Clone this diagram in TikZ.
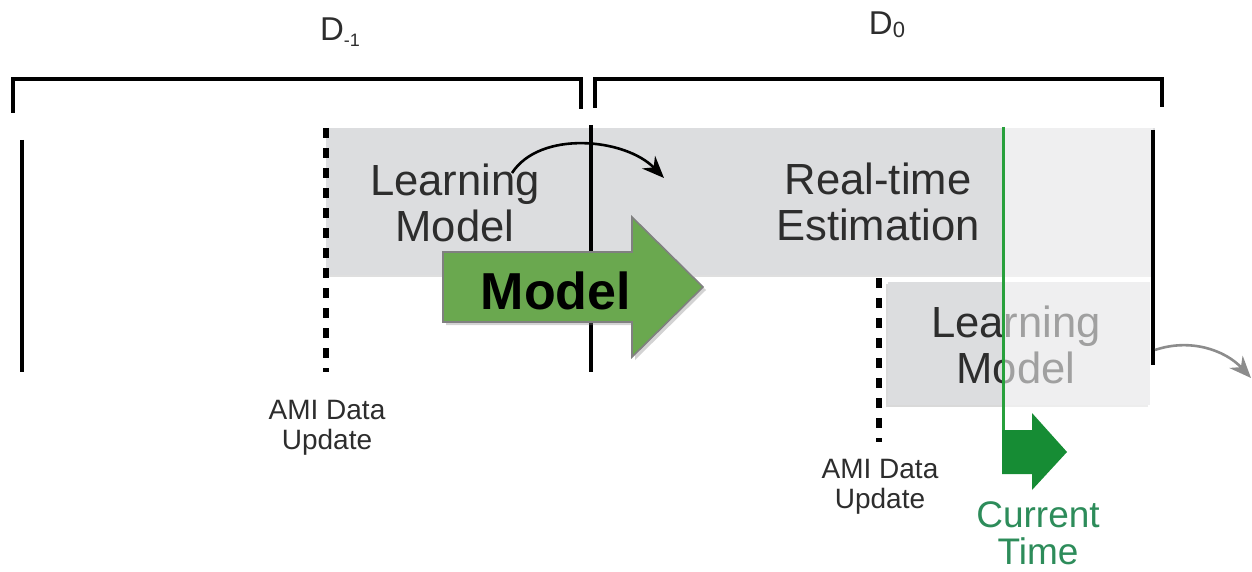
\documentclass[tikz,border=0pt]{standalone}
\usepackage{fontspec}
\setmainfont{Liberation Sans}
\usetikzlibrary{arrows.meta,shadows}
\definecolor{boxgray}{RGB}{220,221,223}
\definecolor{modelgreen}{RGB}{106,168,79}
\definecolor{ctgreen}{RGB}{40,160,60}
\definecolor{ctdark}{RGB}{22,140,52}
\definecolor{cttext}{RGB}{45,140,90}
\definecolor{txtgray}{RGB}{45,45,45}
\begin{document}
\begin{tikzpicture}[x=0.5pt,y=-0.5pt,
  bracketline/.style={line width=2pt},
  solidline/.style={line width=1.6pt},
  dotline/.style={line width=2.6pt, dash pattern=on 5pt off 5pt},
  graybox/.style={fill=boxgray, draw=none},
  bigtxt/.style={font=\fontsize{21.8pt}{23pt}\selectfont, text=txtgray, align=center},
  amitxt/.style={font=\fontsize{14pt}{15pt}\selectfont, text=txtgray, align=center},
  dlabel/.style={font=\fontsize{16.5pt}{18pt}\selectfont, text=txtgray},
  curvearrow/.style={line width=1.3pt, -{Stealth[length=11pt,width=9pt]}},
]
\useasboundingbox (0,0) rectangle (1252,572);

% gray boxes
\path[graybox, drop shadow={shadow xshift=0pt, shadow yshift=-1.2pt, opacity=0.25}] (326,128) rectangle (1155,275);
\path[graybox, drop shadow={shadow xshift=-0.8pt, shadow yshift=-1.2pt, opacity=0.3}] (888,282) rectangle (1150,405);

% box texts
\node[bigtxt] (lm1) at (455,203) {Learning\\Model};
\node[bigtxt] (rte) at (878,202) {Real-time\\Estimation};
\node[bigtxt] (lm2) at (1016,345) {Learning\\Model};

% fading overlay right of current time
\fill[white, opacity=0.55] (1003,126) rectangle (1153,412);

% brackets
\draw[bracketline] (13,113) -- (13,79) -- (581,79) -- (581,109);
\draw[bracketline] (595,108) -- (595,79) -- (1162,79) -- (1162,107);
\node[dlabel] (dm1) at (340,32) {D\raisebox{-0.35ex}{\fontsize{9pt}{10pt}\selectfont -1}};
\node[dlabel] (d0) at (887,25) {D\raisebox{-0.2ex}{\fontsize{11pt}{12pt}\selectfont 0}};

% vertical lines
\draw[solidline] (22,140) -- (22,372);
\draw[solidline] (591,125) -- (591,372);
\draw[solidline] (1153,130) -- (1153,365);
\draw[dotline] (326,128) -- (326,372);
\draw[dotline] (879,278) -- (879,442);

% AMI labels
\node[amitxt] (ami1) at (327,428) {AMI Data\\Update};
\node[amitxt] (ami2) at (880,487) {AMI Data\\Update};

% curved arrows
\coordinate (ca) at (512,173);
\coordinate (cb) at (664,178);
\draw[curvearrow, black] (ca) .. controls (540,130) and (625,138) .. (cb);
\coordinate (ga) at (1155,350);
\coordinate (gb) at (1251,378);
\draw[curvearrow, black!45] (ga) .. controls (1190,338) and (1225,350) .. (gb);

% current time
\draw[ctgreen, line width=1.5pt] (1003,127) -- (1003,452);
\fill[ctdark] (1002,430) -- (1032,430) -- (1032,413) -- (1067,452) -- (1032,490) -- (1032,474) -- (1002,474) -- cycle;
\node[font=\fontsize{18.5pt}{18.5pt}\selectfont, text=cttext, align=center] (ct) at (1038,533) {Current\\Time};

% Model arrow
\path[fill=modelgreen, draw=black!50, line width=0.8pt, drop shadow={shadow xshift=1.5pt, shadow yshift=-1.5pt, opacity=0.35}]
  (443,252) -- (632,252) -- (632,217) -- (703,287) -- (632,357) -- (632,322) -- (443,322) -- cycle;
\node[font=\fontsize{26pt}{28pt}\bfseries\selectfont, text=black] (model) at (556,291) {Model};
\end{tikzpicture}
\end{document}
